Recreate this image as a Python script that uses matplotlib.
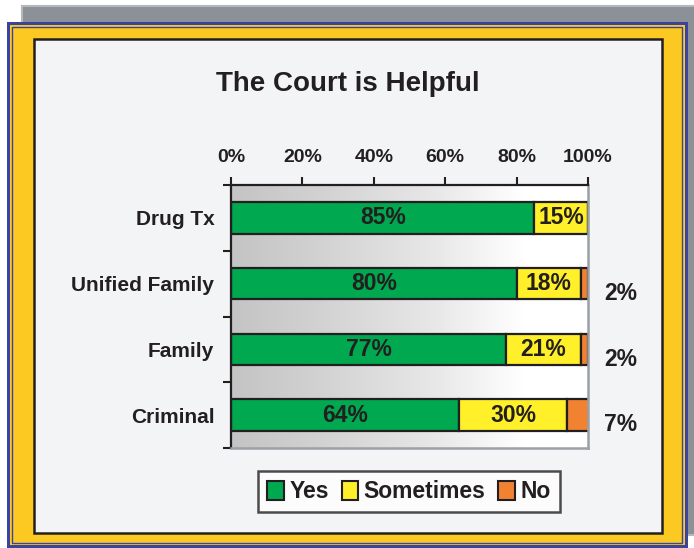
import matplotlib
matplotlib.use("Agg")
import matplotlib.pyplot as plt
import numpy as np
from matplotlib.patches import Rectangle, Patch
from matplotlib.colors import LinearSegmentedColormap

plt.rcParams['font.family'] = ['Liberation Sans', 'DejaVu Sans']
plt.rcParams['font.weight'] = 'bold'

categories = ["Drug Tx", "Unified Family", "Family", "Criminal"]
yes = [85, 80, 77, 64]
sometimes = [15, 18, 21, 30]
no = [0, 2, 2, 7]
series_names = ["Yes", "Sometimes", "No"]
colors = ["#00a84f", "#fff02a", "#f08232"]
xticks = [0, 20, 40, 60, 80, 100]
title = "The Court is Helpful"

W, H = 694, 548
TXT = "#231f20"
fig = plt.figure(figsize=(W / 100, H / 100), dpi=100)
fig.patch.set_facecolor("white")

# Decorative frame in pixel coordinates
bg = fig.add_axes([0, 0, 1, 1], zorder=-10)
bg.set_xlim(0, W)
bg.set_ylim(H, 0)
bg.axis("off")
bg.add_patch(Rectangle((22, 6), W - 22 + 10, 535 - 6, facecolor="#8b9197",
                       edgecolor="#b4b8bc", lw=1.5))
bg.add_patch(Rectangle((7, 22), 688 - 7, 548 - 22 + 2, facecolor="#3b43a2", edgecolor="none"))
bg.add_patch(Rectangle((10, 25), 685 - 10, 545 - 25, facecolor="#fcc922", edgecolor="none"))
bg.add_patch(Rectangle((12, 27), 682 - 12, 543 - 27, facecolor="none",
                       edgecolor="#3b43a2", lw=1.0))
bg.add_patch(Rectangle((34, 39), 662 - 34, 533 - 39, facecolor="#f3f4f6",
                       edgecolor="#231f20", lw=1.8))

# Main axes
L, R, T, B = 231, 588, 185, 448
ax = fig.add_axes([L / W, 1 - B / H, (R - L) / W, (B - T) / H])
ax.set_facecolor("white")

grad = np.linspace(0, 1, 256)
cmap = LinearSegmentedColormap.from_list(
    "g", [(0, "#c4c4c4"), (0.25, "#d2d2d2"), (0.55, "#e6e6e6"), (0.82, "#ffffff"), (1, "#ffffff")])
ax.imshow(grad[np.newaxis, :], extent=[0, 100, 3.5, -0.5], aspect="auto",
          cmap=cmap, zorder=0, interpolation="bilinear")

y = np.arange(len(categories))
left = np.zeros(len(categories))
for vals, col in zip([yes, sometimes, no], colors):
    ax.barh(y, vals, left=left, height=0.48, color=col, edgecolor=TXT,
            linewidth=1.6, zorder=2)
    for i, v in enumerate(vals):
        if v > 0 and col != colors[2]:
            ax.text(left[i] + v / 2, y[i], f"{v}%", ha="center", va="center",
                    fontsize=16.5, fontweight="bold", color=TXT, zorder=3)
    left = left + np.array(vals)

for i, v in enumerate(no):
    if v > 0:
        ax.text(104.5, y[i] + 0.15, f"{v}%", ha="left", va="center", fontsize=16.5,
                fontweight="bold", color=TXT, clip_on=False)

ax.set_xlim(0, 100)
ax.set_ylim(3.5, -0.5)

ax.xaxis.tick_top()
ax.set_xticks(xticks)
ax.set_xticklabels([f"{t}%" for t in xticks], fontsize=14, fontweight="bold", color=TXT)
ax.tick_params(axis="x", which="major", direction="out", length=5.5, width=1.5,
               color=TXT, pad=8)
ax.set_yticks(y)
ax.set_yticklabels(categories, fontsize=15, fontweight="bold", color=TXT)
ax.tick_params(axis="y", which="major", length=0, pad=12)
ax.set_yticks(np.arange(-0.5, 4, 1), minor=True)
ax.tick_params(axis="y", which="minor", direction="out", length=6, width=1.5, color=TXT)

ax.spines["top"].set_color(TXT)
ax.spines["left"].set_color(TXT)
ax.spines["top"].set_linewidth(1.6)
ax.spines["left"].set_linewidth(1.6)
ax.spines["right"].set_color("#9aa0a6")
ax.spines["bottom"].set_color("#9aa0a6")
ax.spines["right"].set_linewidth(1.8)
ax.spines["bottom"].set_linewidth(1.8)

fig.text(348 / W, 1 - 84 / H, title, ha="center", va="center", fontsize=20,
         fontweight="bold", color=TXT)

handles = [Patch(facecolor=c, edgecolor=TXT, linewidth=1.5) for c in colors]
leg = fig.legend(handles, series_names, loc="center", bbox_to_anchor=(409 / W, 1 - 491.5 / H),
                 ncol=3, fontsize=16.5, frameon=True, fancybox=False, edgecolor=TXT,
                 handlelength=0.72, handleheight=0.9, handletextpad=0.25,
                 columnspacing=0.55, borderpad=0.4)
leg.get_frame().set_linewidth(1.8)
leg.get_frame().set_facecolor("white")
for t in leg.get_texts():
    t.set_color(TXT)
    t.set_fontweight("bold")

fig.savefig("out.png", dpi=100)
